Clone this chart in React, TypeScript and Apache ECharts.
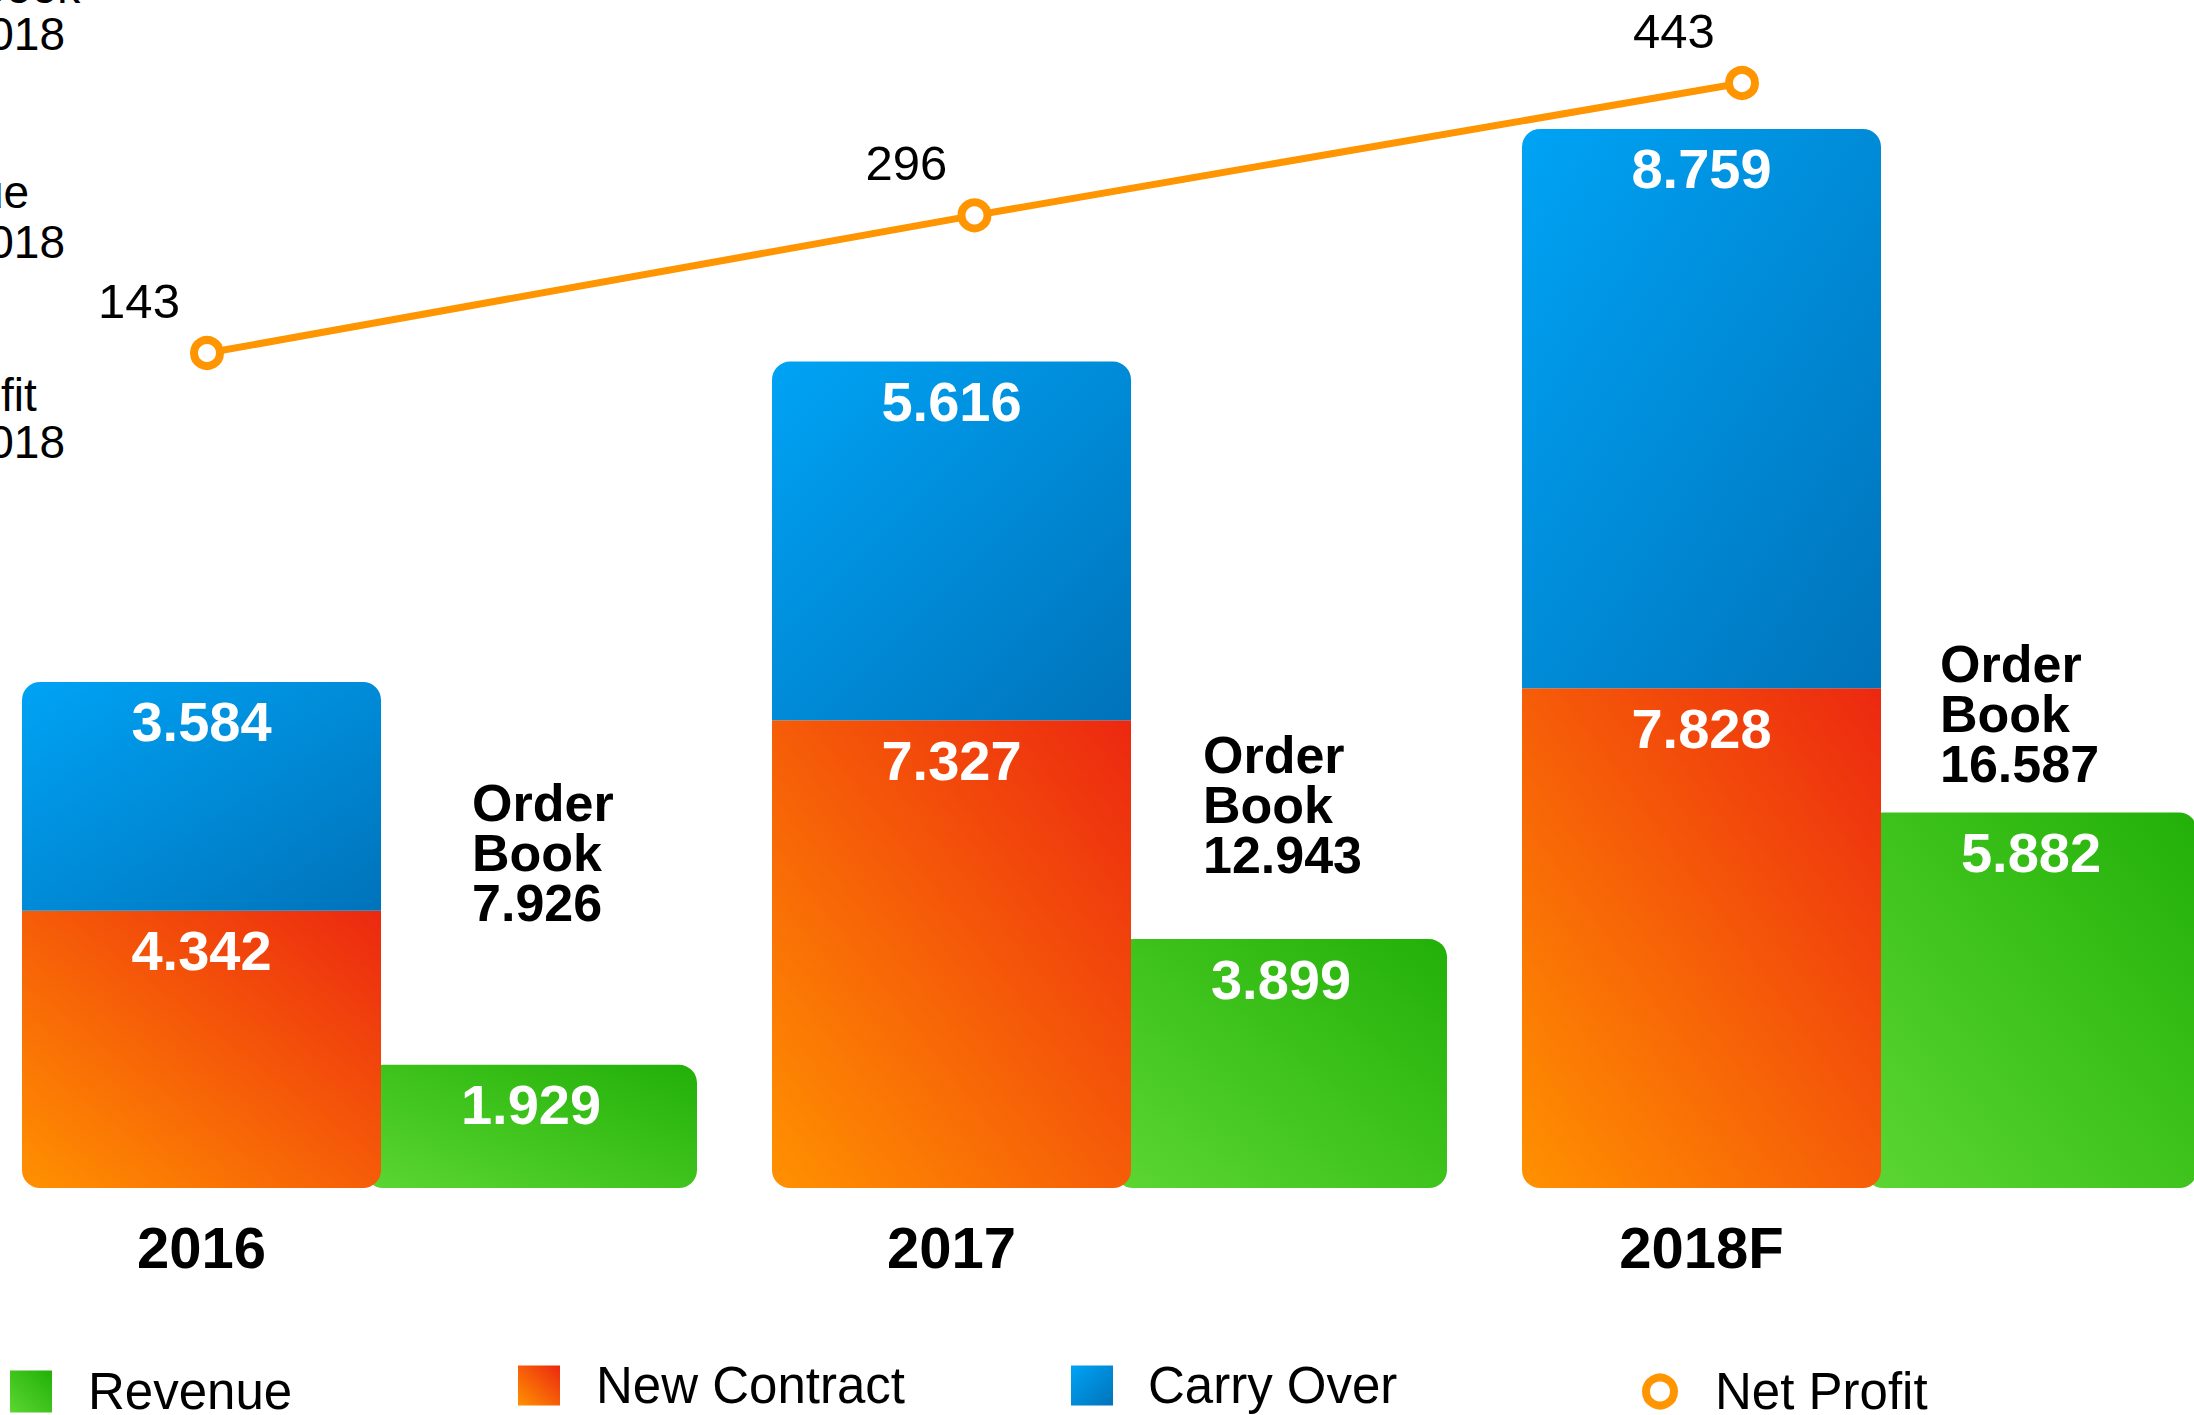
import React, { useEffect, useRef } from "react";
import * as echarts from "echarts";

// ---------- data ----------
const categories = ["2016", "2017", "2018F"];
const newContract = [4.342, 7.327, 7.828];
const carryOver = [3.584, 5.616, 8.759];
const revenue = [1.929, 3.899, 5.882];
const netProfit = [143, 296, 443];
const legendNames = ["Revenue", "New Contract", "Carry Over", "Net Profit"];
const sideNotes = [
  ["Order Book", "2016-2018"],
  ["Revenue", "2016-2018"],
  ["Net Profit", "2016-2018"],
];

// ---------- layout ----------
const FONT = "'Liberation Sans', Arial, Helvetica, sans-serif";
const ORDER_LABEL_POS = [
  [0.3453, 5.247],
  [1.2977, 6.0],
  [2.258, 7.42],
];
const NOTE_BASELINES = [
  [3, 50],
  [208, 258],
  [411, 458],
];

const orderBook = newContract.map((v, i) => v + carryOver[i]);

const grad = (x: number, y: number, x2: number, y2: number, c0: string, c1: string) =>
  new echarts.graphic.LinearGradient(x, y, x2, y2, [
    { offset: 0, color: c0 },
    { offset: 1, color: c1 },
  ]);

export default function App() {
  const ref = useRef<HTMLDivElement>(null);

  useEffect(() => {
    if (!ref.current) return;
    const chart = echarts.init(ref.current, undefined, { renderer: "svg" });

    const orange = grad(0, 1, 1, 0, "#FF9100", "#EC2810");
    const blue = grad(0, 0, 1, 1, "#00A3F5", "#0073BA");
    const green = grad(0, 1, 1, 0, "#5CD632", "#22B008");

    const insideLabel = {
      show: true,
      position: "insideTop",
      distance: 12,
      formatter: (p: any) => Number(p.value).toFixed(3),
      fontSize: 56,
      fontWeight: "bold",
      fontFamily: FONT,
      color: "#fff",
      textBorderWidth: 0,
    };

    const legendText = (pad: number) => ({
      fontSize: 51,
      lineHeight: 51,
      fontFamily: FONT,
      color: "#000",
      padding: [0, 0, 0, pad],
    });

    const option: any = {
      animation: false,
      backgroundColor: "#ffffff",
      textStyle: { fontFamily: FONT },
      grid: {
        left: -15.5,
        right: -40.5,
        top: 60,
        bottom: 227,
        containLabel: false,
        outerBoundsMode: "none",
      },
      xAxis: [
        {
          type: "category",
          data: categories,
          axisLine: { show: false },
          axisTick: { show: false },
          splitLine: { show: false },
          axisLabel: {
            fontSize: 58,
            fontWeight: "bold",
            fontFamily: FONT,
            color: "#000",
            margin: 30,
            padding: [0, 316, 0, 0],
          },
        },
        { type: "value", min: -0.2899, max: 2.6417, show: false },
      ],
      yAxis: [
        { type: "value", min: 0, max: 17.667, show: false },
        { type: "value", min: -784.8, max: 468.6, show: false },
      ],
      legend: [
        {
          data: [legendNames[0]],
          left: 10,
          top: 1366,
          padding: 0,
          icon: "rect",
          itemWidth: 42,
          itemHeight: 42,
          textStyle: legendText(31),
          selectedMode: false,
        },
        {
          data: [legendNames[1]],
          left: 518,
          top: 1360,
          padding: 0,
          icon: "rect",
          itemWidth: 42,
          itemHeight: 40,
          textStyle: legendText(31),
          selectedMode: false,
        },
        {
          data: [legendNames[2]],
          left: 1071,
          top: 1360,
          padding: 0,
          icon: "rect",
          itemWidth: 42,
          itemHeight: 40,
          textStyle: legendText(30),
          selectedMode: false,
        },
        {
          data: [
            {
              name: legendNames[3],
              icon: "circle",
              itemStyle: { color: "#fff", borderColor: "#FF9500", borderWidth: 8 },
            },
          ],
          left: 1642,
          top: 1366,
          padding: 0,
          itemWidth: 28,
          itemHeight: 28,
          textStyle: legendText(36),
          selectedMode: false,
        },
      ],
      series: [
        {
          name: "New Contract",
          type: "bar",
          stack: "order",
          barWidth: 359,
          barGap: "-4.46%",
          z: 3,
          data: newContract,
          itemStyle: { color: orange, borderRadius: [0, 0, 18, 18] },
          label: insideLabel,
        },
        {
          name: "Carry Over",
          type: "bar",
          stack: "order",
          barWidth: 359,
          barGap: "-4.46%",
          z: 3,
          data: carryOver,
          itemStyle: { color: blue, borderRadius: [18, 18, 0, 0] },
          label: insideLabel,
        },
        {
          name: "Revenue",
          type: "bar",
          barWidth: 332,
          barGap: "-4.46%",
          z: 2,
          data: revenue,
          itemStyle: { color: green, borderRadius: 18 },
          label: insideLabel,
        },
        {
          name: "Net Profit",
          type: "line",
          xAxisIndex: 1,
          yAxisIndex: 1,
          z: 5,
          data: netProfit.map((v, i) => [i, v]),
          symbol: "circle",
          symbolSize: 26,
          lineStyle: { color: "#FF9500", width: 7 },
          itemStyle: { color: "#fff", borderColor: "#FF9500", borderWidth: 8 },
          label: {
            show: true,
            position: "inside",
            offset: [-68, -52],
            formatter: (p: any) => String(p.value[1]),
            fontSize: 49,
            fontFamily: FONT,
            color: "#000",
            textBorderWidth: 0,
          },
        },
        {
          name: "Order Book",
          type: "scatter",
          xAxisIndex: 1,
          yAxisIndex: 0,
          z: 4,
          silent: true,
          symbolSize: 1,
          itemStyle: { color: "#ffffff", opacity: 0 },
          data: ORDER_LABEL_POS.map((p) => [p[0], p[1]]),
          label: {
            show: true,
            position: "inside",
            align: "left",
            verticalAlign: "middle",
            formatter: (p: any) => "Order\nBook\n" + orderBook[p.dataIndex].toFixed(3),
            fontSize: 52,
            lineHeight: 50,
            fontWeight: "bold",
            fontFamily: FONT,
            color: "#000000",
            opacity: 1,
            textBorderWidth: 0,
            textBorderColor: "transparent",
          },
        },
      ],
      graphic: sideNotes.flatMap((lines, b) =>
        lines.map((t, l) => ({
          type: "text",
          x: -155,
          y: NOTE_BASELINES[b][l] - 16,
          silent: true,
          style: {
            text: t,
            fontSize: 46,
            fontFamily: FONT,
            fill: "#000",
            align: "left",
            verticalAlign: "middle",
          },
        }))
      ),
    };

    chart.setOption(option);
    return () => chart.dispose();
  }, []);

  return (
    <div
      ref={ref}
      style={{ position: "fixed", left: 0, top: 0, width: 2194, height: 1415, background: "#fff" }}
    />
  );
}
